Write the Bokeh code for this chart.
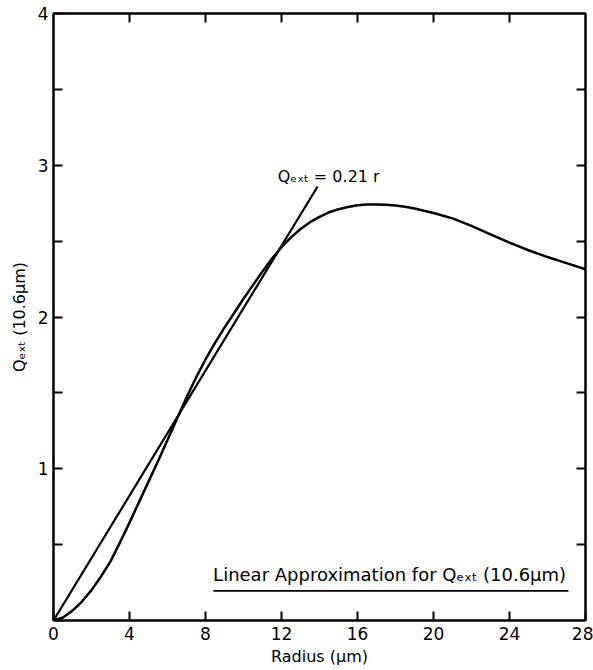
from bokeh.plotting import figure
from bokeh.models import Range1d, FixedTicker, LinearAxis, Label
from bokeh.embed import file_html
from bokeh.resources import INLINE

# Data
radius = [0, 0.5, 1, 1.5, 2, 2.5, 3, 3.5, 4, 4.5, 5, 5.5, 6, 6.5, 7, 7.5, 8, 8.5,
          9, 9.5, 10, 10.5, 11, 11.5, 12, 12.5, 13, 13.5, 14, 14.5, 15, 15.5,
          16, 16.5, 17, 17.5, 18, 18.5, 19, 19.5, 20, 21, 22, 23, 24, 25, 26, 27, 28]
q_ext = [0, 0.02, 0.065, 0.125, 0.20, 0.29, 0.39, 0.515, 0.645, 0.78, 0.915,
         1.05, 1.19, 1.33, 1.47, 1.60, 1.72, 1.83, 1.93, 2.025, 2.12, 2.21,
         2.30, 2.385, 2.46, 2.525, 2.58, 2.625, 2.66, 2.69, 2.71, 2.725,
         2.736, 2.741, 2.742, 2.74, 2.735, 2.726, 2.715, 2.70, 2.685, 2.65,
         2.60, 2.545, 2.49, 2.44, 2.395, 2.355, 2.315]
approx_r = [0, 13.9]
approx_q = [0, 2.86]

x_ticks = [0, 4, 8, 12, 16, 20, 24, 28]
y_ticks = [1, 2, 3, 4]
y_half_ticks = [0.5, 1.5, 2.5, 3.5]

FONT = "DejaVu Sans"

p = figure(width=593, height=670, x_range=Range1d(0, 28), y_range=Range1d(0, 4),
           output_backend="svg", toolbar_location=None,
           min_border_left=53, min_border_right=8, min_border_top=13, min_border_bottom=50)
p.grid.visible = False
p.outline_line_color = "black"
p.outline_line_width = 2
p.background_fill_color = "white"
p.border_fill_color = "white"

xa = p.xaxis[0]
ya = p.yaxis[0]
xa.ticker = FixedTicker(ticks=x_ticks)
ya.ticker = FixedTicker(ticks=y_ticks, minor_ticks=y_half_ticks)
for ax in (xa, ya):
    ax.major_tick_in = 9
    ax.major_tick_out = 0
    ax.minor_tick_in = 9
    ax.minor_tick_out = 0
    ax.minor_tick_line_width = 2
    ax.axis_line_width = 2
    ax.major_tick_line_width = 2
    ax.major_label_text_font = FONT
    ax.major_label_text_font_size = "17px"
    ax.major_label_text_color = "black"
    ax.axis_label_text_font = FONT
    ax.axis_label_text_font_size = "16px"
    ax.axis_label_text_font_style = "normal"
    ax.axis_label_text_color = "black"
xa.major_label_standoff = 6
ya.major_label_standoff = 5
xa.axis_label = "Radius (μm)"
ya.axis_label = "Qₑₓₜ (10.6μm)"
xa.axis_label_standoff = 4
ya.axis_label_standoff = 6

top = LinearAxis(ticker=FixedTicker(ticks=[], minor_ticks=x_ticks[1:-1]))
right = LinearAxis(ticker=FixedTicker(ticks=[], minor_ticks=y_half_ticks + y_ticks[:-1]))
for ax in (top, right):
    ax.major_tick_in = 9
    ax.major_tick_out = 0
    ax.minor_tick_in = 9
    ax.minor_tick_out = 0
    ax.minor_tick_line_width = 2
    ax.axis_line_width = 2
    ax.major_label_standoff = 0
p.add_layout(top, "above")
p.add_layout(right, "right")

p.line(radius, q_ext, line_color="black", line_width=2.5, line_join="round")
p.line(approx_r, approx_q, line_color="black", line_width=2.2)

p.add_layout(Label(x=11.8, y=2.86, text="Qₑₓₜ = 0.21 r", text_font=FONT,
                   text_font_size="16px", text_color="black"))
p.add_layout(Label(x=8.4, y=0.235, text="Linear Approximation for Qₑₓₜ (10.6μm)",
                   text_font=FONT, text_font_size="18px", text_color="black"))
p.segment(x0=[8.42], y0=[0.195], x1=[27.1], y1=[0.195], line_color="black", line_width=1.8)

open("out.html", "w").write(file_html(p, INLINE))
